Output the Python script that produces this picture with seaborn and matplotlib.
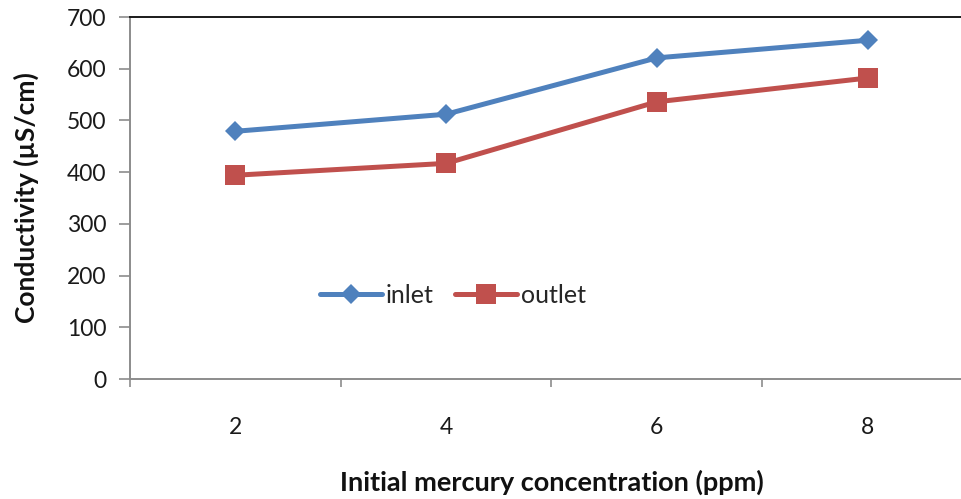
import numpy as np
import pandas as pd
import matplotlib
matplotlib.use("Agg")
import matplotlib.pyplot as plt
import seaborn as sns

# Data
concentration = ["2", "4", "6", "8"]
inlet = [479, 512, 621, 655]
outlet = [394, 417, 536, 582]
series_names = ["inlet", "outlet"]
y_ticks = [0, 100, 200, 300, 400, 500, 600, 700]

sns.set_theme(style="white")
plt.rcParams["font.family"] = ["Lato", "DejaVu Sans"]

df = pd.DataFrame({
    "conc": concentration * 2,
    "value": inlet + outlet,
    "series": [series_names[0]] * len(inlet) + [series_names[1]] * len(outlet),
})
df["pos"] = df["conc"].map({c: i for i, c in enumerate(concentration)})

fig = plt.figure(figsize=(9.62, 4.99), dpi=100)
W, H = 962, 499
left_px, right_px, top_px, bot_px = 130, 973, 17, 379
ax = fig.add_axes([left_px / W, (H - bot_px) / H, (right_px - left_px) / W, (bot_px - top_px) / H])

palette = {"inlet": "#4F81BD", "outlet": "#C0504D"}
markers = {"inlet": "D", "outlet": "s"}
sizes = {"inlet": 10, "outlet": 14}
for name in series_names:
    sub = df[df["series"] == name]
    sns.lineplot(data=sub, x="pos", y="value", ax=ax, color=palette[name],
                 marker=markers[name], markersize=sizes[name], linewidth=3.6,
                 markeredgewidth=0, label=name, legend=False)

ax.set_xlim(-0.5, len(concentration) - 0.5)
ax.set_ylim(0, 700)
ax.set_yticks(y_ticks)
ax.set_yticklabels([str(t) for t in y_ticks])
ax.set_xticks(range(len(concentration)))
ax.set_xticklabels(concentration)
ax.set_xticks(np.arange(-0.5, len(concentration), 1.0), minor=True)

ax.tick_params(axis="x", which="major", length=0, pad=27, labelsize=16.5, colors="#1a1a1a")
ax.tick_params(axis="x", which="minor", length=6, width=1.2, color="#8c8c8c", direction="out", bottom=True)
ax.tick_params(axis="y", which="major", length=8, width=1.2, color="#8c8c8c", pad=9,
               labelsize=16.5, labelcolor="#1a1a1a", left=True)

for s in ["left", "bottom"]:
    ax.spines[s].set_color("#8c8c8c")
    ax.spines[s].set_linewidth(1.4)
ax.spines["right"].set_visible(False)
ax.spines["top"].set_color("#1a1a1a")
ax.spines["top"].set_linewidth(1.4)

ax.set_xlabel("Initial mercury concentration (ppm)", fontsize=19.5, fontweight="bold", labelpad=23, color="#111111")
ax.set_ylabel("Conductivity (µS/cm)", fontsize=19, fontweight="bold", labelpad=20, color="#111111")

leg = ax.legend(loc="center", bbox_to_anchor=(0.383, 0.232), ncol=2, frameon=False,
                fontsize=18, handlelength=2.5, columnspacing=0.85, handletextpad=0.15)

fig.savefig("out.png", dpi=100)
